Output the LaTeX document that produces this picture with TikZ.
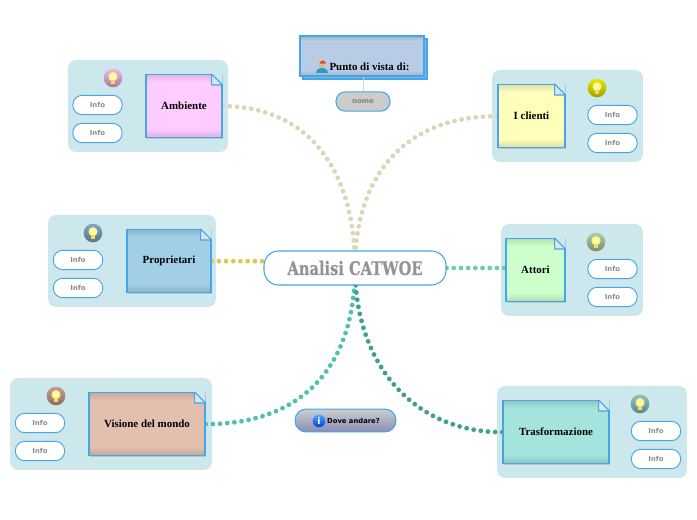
\documentclass[tikz,border=0pt]{standalone}
\usepackage{fontspec}
\usepackage{xcolor}
\usepackage{tikz}
\usetikzlibrary{arrows.meta,positioning,fit,shadows}
\setmainfont{Liberation Serif}
\newfontfamily\titlefont[FakeStretch=0.785, BoldFeatures={FakeBold=0.5}]{DejaVu Serif}
\newfontfamily\infofont{DejaVu Sans}
\definecolor{edgeblue}{HTML}{45A5E6}
\definecolor{panelc}{HTML}{CDE8EC}
\definecolor{foldc}{HTML}{D5E8EE}
\definecolor{colamb}{HTML}{FFCCFF}
\definecolor{colcli}{HTML}{FFFFBB}
\definecolor{colpro}{HTML}{A0CFE6}
\definecolor{colatt}{HTML}{CCFFCC}
\definecolor{colvis}{HTML}{E3BFB0}
\definecolor{coltra}{HTML}{A5E3DD}
\definecolor{bulbamb}{HTML}{EDB8E6}
\definecolor{bulbcli}{HTML}{E8E800}
\definecolor{bulbpro}{HTML}{7FAAC4}
\definecolor{bulbatt}{HTML}{AFD0A8}
\definecolor{bulbvis}{HTML}{C8A08C}
\definecolor{bulbtra}{HTML}{8CC4C4}
\definecolor{puntoc}{HTML}{B8CCE6}
\definecolor{tanc}{HTML}{DDD5B5}
\definecolor{goldc}{HTML}{E0C850}
\definecolor{mintc}{HTML}{70CCAA}
\definecolor{tealc}{HTML}{50C0B0}
\definecolor{darktc}{HTML}{40A088}
\colorlet{mainc}{white}
\pgfdeclareverticalshading[mainc]{notefade}{100bp}{color(0bp)=(mainc!86!black); color(25bp)=(mainc!86!black); color(32bp)=(mainc); color(69bp)=(mainc); color(75bp)=(mainc!88!black); color(100bp)=(mainc!88!black)}
\pgfdeclarelayer{panel}
\pgfdeclarelayer{link}
\pgfsetlayers{panel,link,main}
\tikzset{
  notefill/.style={/utils/exec={\colorlet{mainc}{#1}}, shading=notefade},
  panelbox/.style={fill=panelc, rounded corners=6pt, inner sep=0pt},
  notebox/.style={draw=edgeblue, line width=1pt, minimum height=47.25pt, inner sep=0pt,
    notefill=#1,
    drop shadow={shadow xshift=0.8pt, shadow yshift=-0.8pt, opacity=.3},
    font=\fontsize{8.2}{9}\selectfont\bfseries},
  pillbox/.style={draw=edgeblue, fill=white, line width=0.7pt, rounded corners=7pt,
    minimum width=37pt, minimum height=14.5pt, inner sep=0pt,
    font=\infofont\fontsize{5.2}{6}\selectfont\bfseries, text=black!45},
  bulbbox/.style={circle, minimum size=14pt, inner sep=0pt, top color=#1, bottom color=#1!68!black},
  linkdots/.style={draw=#1, line width=3.6pt, line cap=round, dash pattern=on 0pt off 5.4pt},
}
\begin{document}
\begin{tikzpicture}[x=0.75pt, y=-0.75pt]
\useasboundingbox (0,0) rectangle (697,520);
% central topic
\node (title) [draw=edgeblue, fill=white, line width=0.8pt, rounded corners=11pt,
  minimum width=136.5pt, minimum height=25.5pt,
  font=\titlefont\fontsize{14}{15}\selectfont\bfseries, text=black!42] at (355,268) {Analisi CATWOE};
% the six branches
\foreach \n/\lab/\nx/\nt/\nw/\plx/\prx/\pillx/\bulbx in {
  amb/Ambiente/184/74/76/68/228/97.5/113,
  cli/I clienti/531.5/84/67/492/643/612.5/597,
  pro/Proprietari/169/229/84/48/216/78/93,
  att/Attori/535.5/238/59/501/643/612.5/596,
  vis/Visione del mondo/147/392/116/10/212/40/56,
  tra/Trasformazione/556/400/106/497/687/656/640} {
  \node (note\n) [notebox=col\n, minimum width=\nw*0.75pt, anchor=north] at (\nx,\nt) {\lab};
  \fill[panelc] ([xshift=-8.25pt]note\n.north east) -- (note\n.north east) -- ([yshift=-8.25pt]note\n.north east) -- cycle;
  \draw[edgeblue, fill=foldc, line width=0.8pt, line join=round] ([xshift=-8.25pt]note\n.north east) -- ([xshift=-8.25pt,yshift=-8.25pt]note\n.north east) -- ([yshift=-8.25pt]note\n.north east) -- cycle;
  \begin{pgfonlayer}{panel}
    \node (panel\n) [panelbox, fit={(\plx,\nt-14) (\prx,\nt+78)}] {};
  \end{pgfonlayer}
  \node (infoa\n) [pillbox] at (\pillx,\nt+31) {Info};
  \node (infob\n) [pillbox] at (\pillx,\nt+59) {Info};
  \node (bulb\n) [bulbbox=bulb\n] at (\bulbx,\nt+4) {};
  \fill[yellow!45!white] ([yshift=1pt]bulb\n.center) circle (3.4pt);
  \fill[white!70!yellow] ([yshift=1.2pt]bulb\n.center) circle (1.7pt);
  \fill[yellow!50!orange!60!white] ([xshift=-1.3pt,yshift=-1.8pt]bulb\n.center) rectangle ([xshift=1.3pt,yshift=-4.6pt]bulb\n.center);
}
% point of view
\node (puntob) [draw=edgeblue, fill=edgeblue!75, line width=0.9pt, minimum width=93pt, minimum height=30pt, inner sep=0pt] at (365,59) {};
\node (punto) [draw=edgeblue, line width=0.9pt, minimum width=93pt, minimum height=30pt, inner sep=0pt, notefill=puntoc] at (362,56) {};
\node (puntotxt) [font=\fontsize{8.2}{9}\selectfont\bfseries, inner sep=0pt] at (369.5,66.5) {Punto di vista di:};
\fill[edgeblue!70!teal] (316,73) .. controls (316,66) and (328,66) .. (328,73) -- cycle;
\fill[orange!40!brown!60!white] (322,64) circle (2.4pt);
\fill[red!40!brown] (319.7,63.6) arc (180:0:2.3pt) -- cycle;
\node (nome) [draw=edgeblue, fill=black!20, line width=0.8pt, rounded corners=7pt, minimum width=40.5pt, minimum height=14.5pt,
  inner sep=0pt, font=\infofont\fontsize{5.2}{6}\selectfont\bfseries, text=black!50] at (363,101.5) {nome};
\draw[tanc, line width=0.7pt] (punto.south -| nome.north) -- (nome.north);
% where to go
\node (dove) [draw=edgeblue, line width=0.8pt, rounded corners=8pt, minimum width=75.5pt, minimum height=17pt, inner sep=0pt,
  top color=blue!20!cyan!10!gray!40, bottom color=blue!20!gray!75,
  font=\infofont\fontsize{5.1}{6}\selectfont\bfseries, text=black] at (345.5,420.5) {\hspace{12pt}Dove andare?};
\node (doveicon) [circle, minimum size=9.5pt, inner sep=0pt, top color=blue!50!cyan!70, bottom color=blue!70!cyan!85!black, text=white,
  font=\infofont\fontsize{7}{7}\selectfont\bfseries] at (319,421) {i};
% links
\begin{pgfonlayer}{link}
  \draw[linkdots=tanc] (noteamb.east) .. controls +(80,0) and +(0,-105) .. (title.center);
  \draw[linkdots=tanc] (notecli.west) .. controls +(-95,0) and +(0,-90) .. (title.center);
  \draw[linkdots=goldc] (notepro.east) -- (notepro.east -| title.west);
  \draw[linkdots=mintc] (title.east) -- (noteatt.west |- title.east);
  \draw[linkdots=tealc] (notevis.east) .. controls +(100,0) and +(0,95) .. (title.center);
  \draw[linkdots=darktc] (notetra.west) .. controls +(-90,0) and +(0,95) .. (title.center);
\end{pgfonlayer}
\end{tikzpicture}
\end{document}
